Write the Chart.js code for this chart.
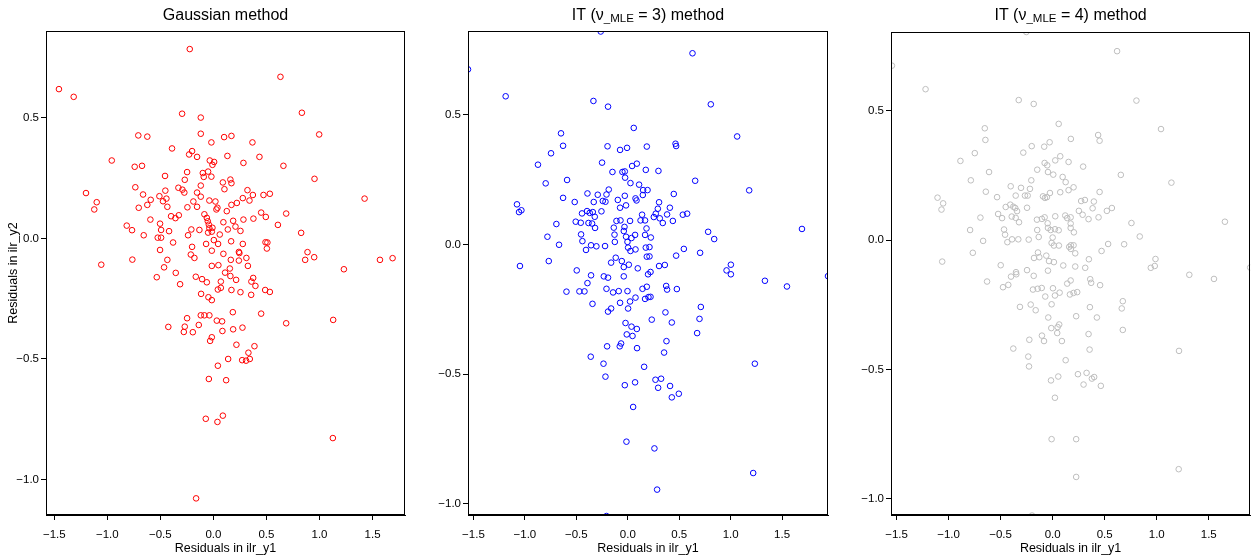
<!DOCTYPE html>
<html>
<head>
<meta charset="utf-8">
<script src="https://cdn.jsdelivr.net/npm/chart.js@4.4.1/dist/chart.umd.min.js"></script>
<style>
  body { margin: 0; background: #fff; }
  #wrap { position: relative; width: 1254px; height: 558px; }
  canvas { position: absolute; top: 0; }
</style>
</head>
<body>
<div id="wrap">
  <canvas id="c1" width="420" height="558" style="left:0"></canvas>
  <canvas id="c2" width="420" height="558" style="left:420px"></canvas>
  <canvas id="c3" width="414" height="558" style="left:840px"></canvas>
</div>
<script>
'use strict';
// tick positions (R default pretty ticks)
var xTicks = [-1.5, -1, -0.5, 0, 0.5, 1, 1.5];
var yTicks = [-1, -0.5, 0, 0.5];

// residuals: [ilr_y1, ilr_y2]
var gaussPts = [
  [-0.223,0.785],[-1.456,0.619],[-1.317,0.587],[-0.295,0.517],[-0.119,0.501],[-0.708,0.427],[-0.623,0.422],
  [-0.119,0.434],[0.101,0.420],[0.170,0.425],[-0.019,0.398],[-0.390,0.373],[-0.201,0.362],[-0.229,0.348],
  [-0.154,0.338],[0.132,0.342],[-0.958,0.323],[-0.742,0.297],[-0.673,0.301],[-0.034,0.323],[0.007,0.317],
  [-0.009,0.305],[-0.248,0.275],[-0.100,0.271],[-0.050,0.277],[-0.091,0.255],[-0.019,0.256],[-0.456,0.259],
  [0.089,0.232],[0.104,0.204],[-0.270,0.243],[-0.119,0.219],[-0.736,0.212],[-0.330,0.210],[-0.292,0.202],
  [-0.274,0.190],[-0.453,0.198],[-0.154,0.190],[-0.119,0.173],[-1.201,0.188],[-1.100,0.150],[-1.123,0.120],
  [-0.663,0.182],[-0.509,0.175],[-0.443,0.165],[-0.475,0.154],[-0.591,0.160],[-0.623,0.139],[-0.704,0.127],
  [-0.434,0.131],[-0.189,0.153],[-0.245,0.129],[-0.154,0.131],[-0.038,0.157],[0.019,0.153],[0.038,0.127],
  [0.028,0.120],[0.126,0.113],[-0.085,0.100],[-0.062,0.085],[-0.053,0.071],[-0.043,0.057],[0.094,0.067],
  [-0.399,0.092],[-0.358,0.084],[-0.326,0.096],[-0.594,0.078],[-0.503,0.061],[-0.493,0.035],[-0.418,0.030],
  [-0.817,0.053],[-0.767,0.034],[-0.657,0.013],[-0.525,0.003],[-0.493,0.003],[-0.380,-0.017],[-0.239,0.013],
  [-0.208,0.037],[-0.132,0.035],[-0.038,0.042],[-0.009,0.044],[-0.015,0.028],[-0.050,0.024],[0.060,0.016],
  [0.136,0.037],[-0.069,-0.023],[0.004,-0.007],[0.044,-0.023],[-0.201,-0.035],[-0.503,-0.048],[-0.213,-0.067],
  [-0.179,-0.081],[-0.015,-0.051],[0.094,-0.064],[-0.764,-0.088],[-1.057,-0.109],[-0.434,-0.089],[-0.465,-0.120],
  [-0.355,-0.143],[-0.015,-0.114],[0.047,-0.111],[0.155,-0.125],[0.632,0.670],[0.834,0.521],[0.997,0.431],
  [0.368,0.398],[0.434,0.338],[0.283,0.313],[0.660,0.301],[0.953,0.247],[0.160,0.244],[0.170,0.229],
  [1.425,0.165],[0.321,0.200],[0.372,0.180],[0.472,0.180],[0.532,0.185],[0.277,0.167],[0.340,0.157],
  [0.221,0.147],[0.170,0.139],[0.450,0.107],[0.494,0.089],[0.686,0.103],[0.283,0.078],[0.377,0.082],
  [0.186,0.073],[0.208,0.049],[0.255,0.031],[0.608,0.056],[0.827,0.023],[0.167,-0.012],[0.277,-0.023],
  [0.491,-0.016],[0.509,-0.017],[0.504,-0.042],[0.240,-0.056],[0.245,-0.061],[0.887,-0.057],[0.865,-0.089],
  [0.950,-0.078],[0.164,-0.089],[0.240,-0.092],[0.311,-0.081],[0.325,-0.114],[1.230,-0.128],[1.570,-0.089],
  [1.689,-0.082],[-0.534,-0.161],[-0.314,-0.190],[-0.166,-0.159],[-0.107,-0.169],[-0.062,-0.182],[0.070,-0.179],
  [0.110,-0.142],[0.042,-0.212],[0.070,-0.205],[-0.116,-0.230],[-0.047,-0.244],[-0.015,-0.256],[-0.248,-0.331],
  [-0.119,-0.319],[-0.085,-0.319],[-0.038,-0.319],[0.032,-0.341],[0.082,-0.344],[-0.425,-0.367],[-0.270,-0.366],
  [-0.279,-0.388],[-0.194,-0.389],[-0.138,-0.359],[0.085,-0.384],[-0.015,-0.410],[-0.031,-0.425],[0.139,-0.500],
  [0.042,-0.528],[-0.043,-0.583],[0.120,-0.588],[-0.072,-0.748],[0.038,-0.761],[0.089,-0.735],[-0.163,-1.078],
  [0.160,-0.156],[0.214,-0.172],[0.375,-0.164],[0.358,-0.179],[0.396,-0.197],[0.170,-0.214],[0.255,-0.223],
  [0.356,-0.234],[0.488,-0.214],[0.532,-0.222],[0.183,-0.306],[0.450,-0.312],[0.186,-0.377],[0.274,-0.370],
  [0.686,-0.352],[1.129,-0.338],[0.217,-0.441],[0.387,-0.447],[0.330,-0.474],[0.271,-0.505],[0.308,-0.507],
  [0.343,-0.500],[1.126,-0.828]
];

var it3Pts = [
  [-1.553,0.676],[-0.263,0.822],[-1.187,0.572],[-0.334,0.554],[-0.192,0.532],[0.058,0.450],[-0.649,0.429],
  [-0.629,0.381],[-0.197,0.379],[-0.075,0.365],[-0.007,0.373],[0.185,0.378],[-0.746,0.352],[-0.873,0.308],
  [-0.250,0.316],[-0.149,0.280],[-0.052,0.280],[-0.029,0.282],[-0.026,0.258],[0.042,0.303],[0.088,0.312],
  [0.175,0.288],[0.026,0.237],[0.110,0.231],[0.149,0.210],[0.192,0.210],[0.146,0.191],[-0.798,0.236],
  [-0.590,0.249],[-0.185,0.212],[-0.207,0.193],[-0.392,0.197],[-0.292,0.192],[-0.243,0.168],[-0.331,0.164],
  [-0.217,0.165],[-0.029,0.188],[-0.097,0.172],[0.075,0.178],[0.085,0.170],[-0.629,0.180],[-0.516,0.164],
  [-1.077,0.155],[-1.057,0.125],[-1.034,0.132],[-0.075,0.142],[-0.017,0.151],[-0.445,0.120],[-0.396,0.129],
  [-0.370,0.122],[-0.340,0.125],[-0.256,0.128],[-0.321,0.107],[-0.506,0.088],[-0.457,0.084],[-0.382,0.083],
  [-0.347,0.081],[-0.318,0.064],[-0.694,0.079],[-0.781,0.030],[-0.668,-0.001],[-0.454,0.039],[-0.441,0.013],
  [-0.406,-0.021],[-0.357,-0.003],[-0.305,-0.007],[-0.221,-0.006],[-0.136,0.065],[-0.110,0.091],[-0.071,0.093],
  [-0.032,0.068],[0.022,0.091],[-0.039,0.052],[-0.129,0.038],[-0.126,0.010],[-0.017,0.030],[0.036,0.025],
  [0.071,0.037],[-0.003,0.010],[0.003,-0.012],[0.026,-0.025],[0.075,-0.019],[0.124,0.093],[0.168,0.093],
  [0.139,0.115],[0.182,0.062],[0.168,0.037],[0.175,-0.012],[0.185,-0.047],[-1.048,-0.083],[-0.768,-0.064],
  [-0.496,-0.100],[-0.162,-0.070],[-0.117,-0.051],[-0.058,-0.064],[-0.039,-0.087],[0.010,-0.078],[0.097,-0.092],
  [0.629,0.738],[0.807,0.541],[1.063,0.417],[0.464,0.389],[0.470,0.380],[0.298,0.284],[0.655,0.246],
  [1.180,0.209],[0.447,0.195],[0.304,0.163],[0.409,0.142],[0.292,0.138],[0.272,0.119],[0.253,0.106],
  [0.382,0.116],[0.311,0.101],[0.340,0.083],[0.438,0.091],[0.535,0.115],[0.577,0.119],[0.781,0.049],
  [0.840,0.021],[1.693,0.060],[0.224,0.027],[0.211,-0.010],[0.211,-0.046],[0.545,-0.017],[0.470,-0.043],
  [0.703,-0.032],[0.304,-0.083],[0.360,-0.079],[1.002,-0.078],[0.960,-0.100],[0.221,-0.106],[-0.357,-0.119],
  [-0.233,-0.123],[-0.192,-0.128],[-0.039,-0.123],[0.197,-0.115],[-0.392,-0.149],[-0.596,-0.182],[-0.470,-0.181],
  [-0.421,-0.181],[-0.207,-0.171],[-0.143,-0.185],[-0.088,-0.180],[-0.003,-0.180],[0.143,-0.171],[0.185,-0.163],
  [-0.343,-0.229],[-0.075,-0.225],[0.022,-0.220],[0.075,-0.205],[0.168,-0.210],[0.201,-0.203],[-0.192,-0.259],
  [-0.162,-0.247],[0.003,-0.247],[-0.022,-0.303],[0.036,-0.317],[0.088,-0.326],[-0.010,-0.347],[0.046,-0.353],
  [-0.201,-0.393],[-0.078,-0.393],[-0.065,-0.382],[0.090,-0.400],[-0.360,-0.433],[-0.236,-0.460],[-0.217,-0.510],
  [0.159,-0.472],[-0.029,-0.543],[0.071,-0.532],[0.052,-0.627],[-0.013,-0.761],[-0.207,-1.048],[1.002,-0.115],
  [0.221,-0.202],[1.333,-0.140],[1.547,-0.162],[1.946,-0.122],[0.373,-0.160],[0.382,-0.174],[0.477,-0.172],
  [0.710,-0.241],[0.697,-0.287],[0.674,-0.342],[0.366,-0.262],[0.233,-0.290],[0.428,-0.301],[0.376,-0.373],
  [0.353,-0.417],[1.235,-0.460],[0.269,-0.522],[0.324,-0.518],[0.295,-0.553],[0.411,-0.546],[0.428,-0.590],
  [0.496,-0.576],[0.259,-0.787],[1.219,-0.882],[0.285,-0.946]
];

var it4Pts = [
  [-1.544,0.674],[-0.253,0.804],[-1.221,0.583],[-0.326,0.541],[-0.182,0.526],[0.058,0.449],[-0.652,0.432],
  [-0.646,0.387],[-0.201,0.363],[-0.081,0.361],[-0.029,0.378],[0.175,0.391],[-0.748,0.336],[-0.886,0.306],
  [-0.282,0.338],[-0.148,0.272],[-0.077,0.298],[-0.052,0.289],[-0.045,0.263],[0.006,0.253],[0.025,0.308],
  [0.073,0.324],[0.153,0.302],[0.096,0.244],[0.125,0.224],[0.153,0.193],[0.073,0.185],[-0.786,0.231],
  [-0.611,0.263],[-0.205,0.231],[-0.218,0.198],[-0.403,0.208],[-0.304,0.202],[-0.266,0.172],[-0.240,0.172],
  [-0.355,0.172],[-0.642,0.187],[-0.534,0.166],[-0.093,0.169],[-0.074,0.163],[-0.055,0.166],[-0.026,0.182],
  [-1.106,0.164],[-1.052,0.142],[-1.068,0.118],[-0.246,0.125],[-0.524,0.101],[-0.486,0.085],[-0.451,0.128],
  [-0.407,0.137],[-0.378,0.129],[-0.359,0.124],[-0.342,0.112],[-0.393,0.091],[-0.355,0.086],[-0.323,0.069],
  [-0.694,0.087],[-0.793,0.039],[-0.668,-0.003],[-0.467,0.041],[-0.457,0.021],[-0.435,-0.008],[-0.390,0.003],
  [-0.330,0.003],[-0.230,0.002],[-0.151,0.079],[-0.103,0.082],[-0.077,0.088],[-0.048,0.065],[-0.019,0.039],
  [-0.045,0.047],[0.022,0.042],[0.058,0.038],[0.025,0.092],[0.121,0.095],[0.140,0.085],[-0.148,0.039],
  [-0.134,0.012],[0.000,0.010],[-0.010,-0.011],[0.012,-0.021],[0.060,-0.021],[0.159,-0.026],[-0.767,-0.049],
  [-1.061,-0.083],[-0.499,-0.097],[-0.141,-0.048],[-0.128,-0.066],[-0.179,-0.069],[-0.061,-0.060],[-0.035,-0.081],
  [0.012,-0.085],[0.102,-0.098],[-0.352,-0.124],[-0.246,-0.116],[-0.045,-0.118],[0.619,0.730],[0.805,0.539],
  [1.041,0.429],[0.437,0.406],[0.451,0.384],[0.293,0.284],[0.655,0.252],[1.141,0.222],[0.201,0.204],
  [0.451,0.186],[0.274,0.151],[0.310,0.155],[0.396,0.149],[0.384,0.123],[0.252,0.113],[0.288,0.098],
  [0.345,0.081],[0.441,0.088],[0.521,0.113],[0.569,0.124],[0.173,0.088],[0.173,0.064],[0.173,0.047],
  [0.204,0.030],[0.757,0.066],[0.837,0.014],[1.655,0.071],[0.175,-0.020],[0.201,-0.020],[0.175,-0.034],
  [0.217,-0.051],[0.533,-0.015],[0.470,-0.042],[0.687,-0.016],[0.348,-0.074],[0.217,-0.102],[0.313,-0.107],
  [0.988,-0.073],[0.981,-0.100],[0.943,-0.107],[1.898,-0.106],[-0.630,-0.160],[-0.477,-0.182],[-0.426,-0.173],
  [-0.400,-0.141],[-0.349,-0.132],[-0.182,-0.138],[-0.189,-0.191],[-0.144,-0.188],[-0.105,-0.185],[0.003,-0.186],
  [-0.071,-0.218],[0.022,-0.214],[0.067,-0.203],[0.140,-0.168],[0.166,-0.210],[-0.314,-0.258],[-0.211,-0.249],
  [-0.163,-0.271],[-0.010,-0.248],[-0.042,-0.299],[-0.013,-0.340],[0.048,-0.336],[0.063,-0.326],[0.044,-0.359],
  [-0.103,-0.369],[-0.083,-0.390],[-0.224,-0.385],[0.089,-0.390],[-0.378,-0.419],[-0.234,-0.450],[-0.227,-0.488],
  [0.125,-0.464],[-0.016,-0.542],[0.054,-0.527],[0.022,-0.609],[-0.010,-0.769],[-0.198,-1.064],[0.173,-0.156],
  [0.361,-0.151],[0.370,-0.165],[0.456,-0.174],[0.201,-0.204],[0.236,-0.201],[1.313,-0.134],[1.550,-0.150],
  [0.358,-0.259],[0.674,-0.236],[0.664,-0.264],[0.226,-0.294],[0.425,-0.299],[0.674,-0.347],[0.345,-0.363],
  [0.355,-0.423],[1.214,-0.428],[0.243,-0.518],[0.326,-0.513],[0.377,-0.535],[0.399,-0.529],[0.297,-0.558],
  [0.463,-0.563],[0.226,-0.769],[1.211,-0.885],[0.226,-0.915]
];

var FONT = '"Liberation Sans", Arial, Helvetica, sans-serif';

function fmt(v) {
  return v.toFixed(1).replace('-', '\u2212');
}

// box round the plot region, like R's bty="o"
var boxPlugin = {
  id: 'box',
  afterDraw: function(chart) {
    var a = chart.chartArea, ctx = chart.ctx;
    ctx.save();
    ctx.strokeStyle = '#000';
    ctx.lineWidth = 1;
    ctx.strokeRect(Math.round(a.left) + 0.5, Math.round(a.top) + 0.5,
      Math.round(a.right - a.left) - 1, Math.round(a.bottom - a.top) - 1);
    ctx.restore();
  }
};

// title made of pieces so the subscript can be smaller
function titlePlugin(parts) {
  return {
    id: 'rtitle',
    afterDraw: function(chart) {
      var a = chart.chartArea, ctx = chart.ctx;
      ctx.save();
      ctx.fillStyle = '#000';
      ctx.textBaseline = 'middle';
      var total = 0;
      parts.forEach(function(p) {
        ctx.font = p.size + 'px ' + FONT;
        p.w = ctx.measureText(p.text).width;
        total += p.w;
      });
      var x = (a.left + a.right) / 2 - total / 2;
      parts.forEach(function(p) {
        ctx.font = p.size + 'px ' + FONT;
        ctx.textAlign = 'left';
        ctx.fillText(p.text, x, 16 + (p.dy || 0));
        x += p.w;
      });
      ctx.restore();
    }
  };
}

function makePanel(id, pts, color, xr, yr, yWidth, padRight, padTop, yTitle, title) {
  var ctx = document.getElementById(id).getContext('2d');
  return new Chart(ctx, {
    type: 'scatter',
    data: {
      datasets: [{
        data: pts.map(function(p) { return {x: p[0], y: p[1]}; }),
        borderColor: color,
        backgroundColor: 'rgba(0,0,0,0)',
        borderWidth: 1,
        pointRadius: 2.8,
        pointHoverRadius: 2.8,
        clip: 0
      }]
    },
    options: {
      responsive: false,
      animation: false,
      devicePixelRatio: 1,
      layout: { padding: { left: 0, right: padRight, top: padTop, bottom: 0 } },
      plugins: { legend: { display: false }, tooltip: { enabled: false }, title: { display: false } },
      scales: {
        x: {
          type: 'linear',
          min: xr[0], max: xr[1],
          afterBuildTicks: function(scale) { scale.ticks = xTicks.map(function(v) { return {value: v}; }); },
          afterFit: function(scale) { scale.height = 43; },
          grid: { display: true, drawOnChartArea: false, drawTicks: true, tickLength: 5, color: '#000', lineWidth: 1 },
          border: { display: true, color: '#000', width: 1 },
          ticks: {
            autoSkip: false, maxRotation: 0, padding: 8, color: '#000',
            font: { family: FONT, size: 11.5 },
            callback: function(v) { return fmt(v); }
          },
          title: {
            display: true, text: 'Residuals in ilr_y1', color: '#000',
            font: { family: FONT, size: 12.5 },
            padding: { top: 0, bottom: 2 }
          }
        },
        y: {
          type: 'linear',
          min: yr[0], max: yr[1],
          afterBuildTicks: function(scale) { scale.ticks = yTicks.map(function(v) { return {value: v}; }); },
          afterFit: function(scale) { scale.width = yWidth; },
          grid: { display: true, drawOnChartArea: false, drawTicks: true, tickLength: 5, color: '#000', lineWidth: 1 },
          border: { display: true, color: '#000', width: 1 },
          ticks: {
            autoSkip: false, padding: 2, color: '#000',
            font: { family: FONT, size: 11.5 },
            callback: function(v) { return fmt(v); }
          },
          title: {
            display: yTitle, text: 'Residuals in ilr_y2', color: '#000',
            font: { family: FONT, size: 12.5 },
            padding: { top: 6, bottom: 0 }
          }
        }
      }
    },
    plugins: [boxPlugin, titlePlugin(title)]
  });
}

makePanel('c1', gaussPts, '#FF0000', [-1.578, 1.806], [-1.147, 0.860], 46, 15, 31, true,
  [{text: 'Gaussian method', size: 16}]);
makePanel('c2', it3Pts, '#0000FF', [-1.553, 1.946], [-1.044, 0.824], 48, 12, 31, false,
  [{text: 'IT (\u03BD', size: 16}, {text: '_MLE', size: 11.5, dy: 3}, {text: ' = 3) method', size: 16}]);
makePanel('c3', it4Pts, '#BEBEBE', [-1.553, 1.898], [-1.062, 0.804], 51, 3, 32, false,
  [{text: 'IT (\u03BD', size: 16}, {text: '_MLE', size: 11.5, dy: 3}, {text: ' = 4) method', size: 16}]);
</script>
</body>
</html>
